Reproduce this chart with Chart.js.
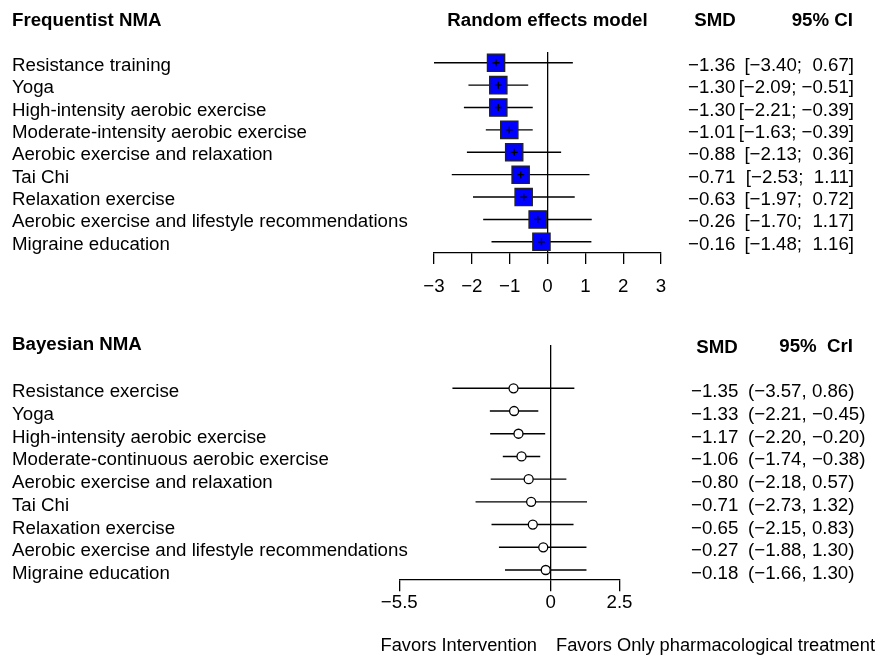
<!DOCTYPE html>
<html>
<head>
<meta charset="utf-8">
<script src="https://cdn.jsdelivr.net/npm/chart.js@4.4.0/dist/chart.umd.min.js"></script>
<style>
  body { margin: 0; background: #fff; }
  #wrap { position: relative; width: 880px; height: 667px; }
  canvas { position: absolute; left: 0; }
  #freqChart { top: 0; }
  #bayesChart { top: 330px; }
</style>
</head>
<body>
<div id="wrap">
  <canvas id="freqChart" width="880" height="330"></canvas>
  <canvas id="bayesChart" width="880" height="337"></canvas>
</div>
<script>
// frequentist NMA (random effects)
const freqLabels = ['Resistance training', 'Yoga', 'High-intensity aerobic exercise',
  'Moderate-intensity aerobic exercise', 'Aerobic exercise and relaxation', 'Tai Chi',
  'Relaxation exercise', 'Aerobic exercise and lifestyle recommendations', 'Migraine education'];
const freqSmd = [-1.36, -1.30, -1.30, -1.01, -0.88, -0.71, -0.63, -0.26, -0.16];
const freqLower = [-3.40, -2.09, -2.21, -1.63, -2.13, -2.53, -1.97, -1.70, -1.48];
const freqUpper = [0.67, -0.51, -0.39, -0.39, 0.36, 1.11, 0.72, 1.17, 1.16];
const freqTicks = [-3, -2, -1, 0, 1, 2, 3];

// bayesian NMA
const bayesLabels = ['Resistance exercise', 'Yoga', 'High\u2010intensity aerobic exercise',
  'Moderate\u2010continuous aerobic exercise', 'Aerobic exercise and relaxation', 'Tai Chi',
  'Relaxation exercise', 'Aerobic exercise and lifestyle recommendations', 'Migraine education'];
const bayesSmd = [-1.35, -1.33, -1.17, -1.06, -0.80, -0.71, -0.65, -0.27, -0.18];
const bayesLower = [-3.57, -2.21, -2.20, -1.74, -2.18, -2.73, -2.15, -1.88, -1.66];
const bayesUpper = [0.86, -0.45, -0.20, -0.38, 0.57, 1.32, 0.83, 1.30, 1.30];
const bayesTicks = [-5.5, 0, 2.5];

const FONT = "'Liberation Sans', Arial, Helvetica, sans-serif";
const FSIZE = 18.7;

function minus(s) { return String(s).replace('-', '\u2212'); }
function fmt(v) { return minus(v.toFixed(2)); }

function txt(ctx, s, x, y, align, bold, size) {
  ctx.save();
  ctx.font = (bold ? 'bold ' : '') + (size || FSIZE) + 'px ' + FONT;
  ctx.textAlign = align;
  ctx.textBaseline = 'alphabetic';
  ctx.fillStyle = '#000';
  ctx.fillText(s, x, y);
  ctx.restore();
}

function ciLine(lo, hi) {
  // one segment per row, null breaks the line between rows
  return lo.flatMap((l, i) => [{x: l, y: i + 1}, {x: hi[i], y: i + 1}, {x: hi[i], y: null}]);
}

function xAxis(ticks, min, max, height, tickLen, pad) {
  return {
    type: 'linear', min: min, max: max,
    afterBuildTicks: s => { s.ticks = ticks.map(v => ({value: v})); },
    afterFit: s => { s.height = height; },
    grid: {
      color: c => (c.tick && c.tick.value === 0) ? '#000' : 'rgba(0,0,0,0)',
      lineWidth: 1.3, tickColor: '#000', tickLength: tickLen, tickWidth: 1.3
    },
    border: { display: true, color: '#000', width: 1.3 },
    ticks: { color: '#000', font: { family: FONT, size: FSIZE }, padding: pad,
      maxRotation: 0, autoSkip: false, callback: v => minus(v) }
  };
}

const freqText = {
  id: 'freqText',
  afterDraw(chart) {
    const ctx = chart.ctx, xs = chart.scales.x, ys = chart.scales.y;
    txt(ctx, 'Frequentist NMA', 12, 26, 'left', true);
    txt(ctx, 'Random effects model', xs.getPixelForValue(0), 26, 'center', true);
    txt(ctx, 'SMD', 715, 26, 'center', true);
    txt(ctx, '95% CI', 853, 26, 'right', true);
    freqLabels.forEach((lab, i) => {
      const y = ys.getPixelForValue(i + 1) + 8;
      const hi = freqUpper[i];
      txt(ctx, lab, 12, y, 'left');
      txt(ctx, fmt(freqSmd[i]), 688, y, 'left');
      txt(ctx, '[' + fmt(freqLower[i]) + ';' + (hi < 0 ? ' ' : '  ') + fmt(hi) + ']', 854, y, 'right');
    });
  }
};

const bayesText = {
  id: 'bayesText',
  afterDraw(chart) {
    const ctx = chart.ctx, ys = chart.scales.y;
    txt(ctx, 'Bayesian NMA', 12, 20, 'left', true);
    txt(ctx, 'SMD', 717, 23, 'center', true);
    txt(ctx, '95%  CrI', 853, 22, 'right', true);
    bayesLabels.forEach((lab, i) => {
      const y = ys.getPixelForValue(i + 1) + 9;
      txt(ctx, lab, 12, y, 'left');
      txt(ctx, fmt(bayesSmd[i]), 691, y, 'left');
      txt(ctx, '(' + fmt(bayesLower[i]) + ', ' + fmt(bayesUpper[i]) + ')', 748, y, 'left');
    });
    txt(ctx, 'Favors Intervention', 537, 320.5, 'right', false, 18.3);
    txt(ctx, 'Favors Only pharmacological treatment', 556, 320.5, 'left', false, 18.3);
  }
};

const common = {
  responsive: false,
  animation: false,
  events: [],
  plugins: { legend: { display: false }, tooltip: { enabled: false } }
};

new Chart(document.getElementById('freqChart'), {
  type: 'scatter',
  data: {
    datasets: [
      { data: freqSmd.map((v, i) => ({x: v, y: i + 1})), pointStyle: 'cross', pointRadius: 3.5,
        borderColor: '#000', borderWidth: 1.3, order: 1 },
      { data: freqSmd.map((v, i) => ({x: v, y: i + 1})), pointStyle: 'rect', pointRadius: 12.2,
        backgroundColor: '#0000ff', borderColor: '#222', borderWidth: 1.3, order: 2 },
      { data: ciLine(freqLower, freqUpper), showLine: true, pointRadius: 0,
        borderColor: '#000', borderWidth: 1.4, order: 3 }
    ]
  },
  options: Object.assign({}, common, {
    layout: { padding: { left: 434, right: 219, top: 52, bottom: 0 } },
    scales: {
      x: xAxis(freqTicks, -3, 3, 77, 11, 12),
      y: { type: 'linear', min: 0.52, max: 9.5, reverse: true, display: false }
    }
  }),
  plugins: [freqText]
});

new Chart(document.getElementById('bayesChart'), {
  type: 'scatter',
  data: {
    datasets: [
      { data: bayesSmd.map((v, i) => ({x: v, y: i + 1})), pointStyle: 'circle', pointRadius: 4.5,
        backgroundColor: '#fff', borderColor: '#000', borderWidth: 1.3, order: 1 },
      { data: ciLine(bayesLower, bayesUpper), showLine: true, pointRadius: 0,
        borderColor: '#000', borderWidth: 1.4, order: 2 }
    ]
  },
  options: Object.assign({}, common, {
    layout: { padding: { left: 399.3, right: 260.5, top: 15, bottom: 0 } },
    scales: {
      x: xAxis(bayesTicks, -5.5, 2.5, 87.7, 12, 0),
      y: { type: 'linear', min: -0.907, max: 9.41, reverse: true, display: false }
    }
  }),
  plugins: [bayesText]
});
</script>
</body>
</html>
